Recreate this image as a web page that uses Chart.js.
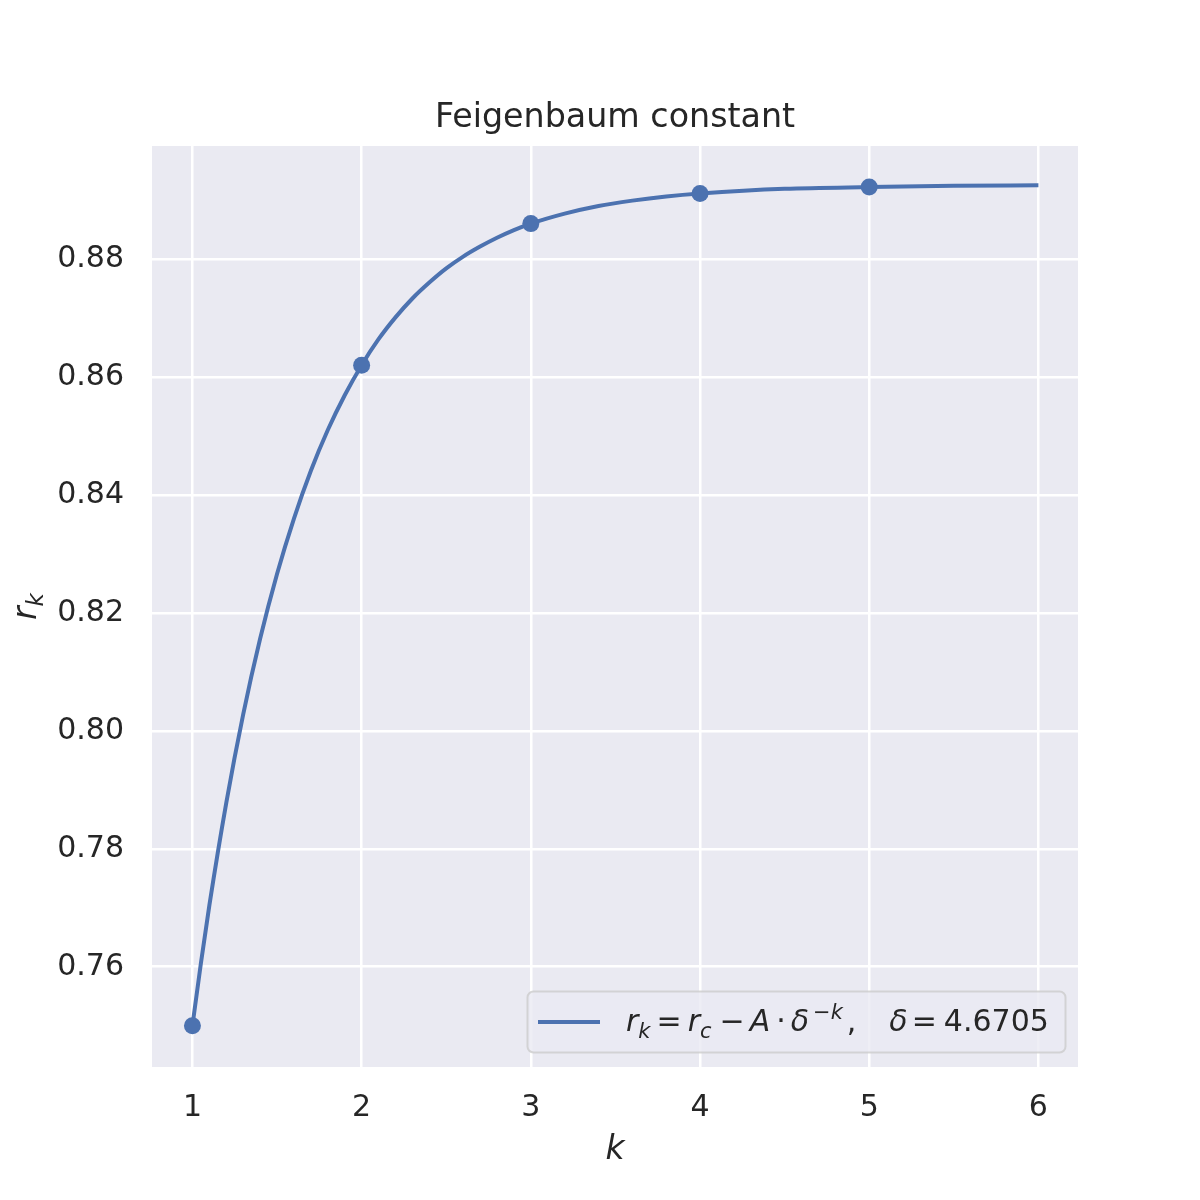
<!DOCTYPE html>
<html><head><meta charset="utf-8">
<script src="https://cdn.jsdelivr.net/npm/chart.js@4/dist/chart.umd.min.js"></script>
<style>html,body{margin:0;padding:0;background:#fff}#wrap{width:1200px;height:1200px}</style>
</head><body><div id="wrap"><canvas id="c" width="1200" height="1200"></canvas></div>
<script>
const chartTitle = "Feigenbaum constant";
const xLabel = "k";
const pointK = [1, 2, 3, 4, 5];
const pointR = [0.7500, 0.8620, 0.8860, 0.8911, 0.8922];
const curveK = [1.0, 1.05, 1.1, 1.2, 1.3, 1.4, 1.5, 1.6, 1.7, 1.8, 1.9, 2.0, 2.1, 2.2, 2.3, 2.4, 2.5, 2.6, 2.7, 2.8, 2.9, 3.0, 3.2, 3.4, 3.6, 3.8, 4.0, 4.5, 5.0, 5.5, 6.0];
const curveR = [0.7500, 0.7606, 0.7704, 0.7878, 0.8028, 0.8156, 0.8266, 0.8360, 0.8441, 0.8510, 0.8569, 0.8620, 0.8664, 0.8701, 0.8733, 0.8760, 0.8784, 0.8804, 0.8821, 0.8836, 0.8849, 0.8860, 0.8877, 0.8890, 0.8899, 0.8906, 0.8911, 0.8919, 0.8922, 0.8924, 0.8925];
const xTicks = [1, 2, 3, 4, 5, 6];
const yTicks = [0.76, 0.78, 0.80, 0.82, 0.84, 0.86, 0.88];
const deltaValue = "4.6705";

const BLUE = '#4C72B0';
const TXT = '#262626';
const FONT = '"DejaVu Sans", sans-serif';

const curveData = curveK.map((k, i) => ({x: k, y: curveR[i]}));
const pointData = pointK.map((k, i) => ({x: k, y: pointR[i]}));

function drawSeq(ctx, pieces, x, y, size) {
  for (const p of pieces) {
    const s = size * (p.scale || 1);
    ctx.font = (p.italic ? 'italic ' : '') + s + 'px ' + FONT;
    ctx.fillText(p.t, x, y + (p.dy || 0));
    x += ctx.measureText(p.t).width + (p.gap || 0);
  }
  return x;
}

const decor = {
  id: 'decor',
  beforeDraw(chart) {
    const {ctx, chartArea: a} = chart;
    ctx.save();
    ctx.fillStyle = '#EAEAF2';
    ctx.fillRect(a.left, a.top, a.right - a.left, a.bottom - a.top);
    ctx.restore();
  },
  afterDraw(chart) {
    const {ctx, chartArea: a} = chart;
    const cx = (a.left + a.right) / 2;
    ctx.save();
    ctx.fillStyle = TXT;
    ctx.textBaseline = 'alphabetic';
    // title
    ctx.font = '33.3px ' + FONT;
    ctx.textAlign = 'center';
    ctx.fillText(chartTitle, cx, 127);
    // x label
    ctx.font = 'italic 33px ' + FONT;
    ctx.fillText(xLabel, cx, 1159);
    // y label r_k
    ctx.save();
    ctx.translate(36, 606);
    ctx.rotate(-Math.PI / 2);
    ctx.textAlign = 'left';
    drawSeq(ctx, [{t: 'r', italic: true}, {t: 'k', italic: true, scale: 0.7, dy: 7}], -14, 0, 33);
    ctx.restore();
    // legend
    const lx = 527.5, ly = 991.5, lw = 538, lh = 61;
    ctx.beginPath();
    ctx.roundRect(lx, ly, lw, lh, 6);
    ctx.fillStyle = 'rgba(234,234,242,0.8)';
    ctx.fill();
    ctx.strokeStyle = 'rgba(204,204,204,0.8)';
    ctx.lineWidth = 2;
    ctx.stroke();
    ctx.beginPath();
    ctx.moveTo(538, 1022);
    ctx.lineTo(600, 1022);
    ctx.strokeStyle = BLUE;
    ctx.lineWidth = 4;
    ctx.stroke();
    ctx.fillStyle = TXT;
    ctx.textAlign = 'left';
    drawSeq(ctx, [
      {t: 'r', italic: true},
      {t: 'k', italic: true, scale: 0.7, dy: 7, gap: 6},
      {t: '=', gap: 6},
      {t: 'r', italic: true},
      {t: 'c', italic: true, scale: 0.7, dy: 7, gap: 8},
      {t: '\u2212', gap: 5},
      {t: 'A', italic: true, gap: 6},
      {t: '\u00b7', gap: 5},
      {t: '\u03b4', italic: true, gap: 4},
      {t: '\u2212k', italic: true, scale: 0.7, dy: -12, gap: 4},
      {t: ',', gap: 33},
      {t: '\u03b4', italic: true, gap: 4},
      {t: '=', gap: 7},
      {t: deltaValue}
    ], 626, 1031, 30);
    ctx.restore();
  }
};

new Chart(document.getElementById('c'), {
  type: 'scatter',
  data: {
    datasets: [
      {
        label: 'curve',
        data: curveData,
        showLine: true,
        borderColor: BLUE,
        borderWidth: 4,
        pointRadius: 0,
        cubicInterpolationMode: 'monotone',
        fill: false,
        order: 2
      },
      {
        label: 'points',
        data: pointData,
        showLine: false,
        backgroundColor: BLUE,
        borderColor: BLUE,
        pointRadius: 8.5,
        pointBorderWidth: 0,
        order: 1
      }
    ]
  },
  options: {
    responsive: false,
    animation: false,
    devicePixelRatio: 1,
    layout: {padding: {left: 0, right: 122, top: 146, bottom: 0}},
    plugins: {
      legend: {display: false},
      tooltip: {enabled: false},
      title: {display: false}
    },
    scales: {
      x: {
        type: 'linear',
        min: 0.761, max: 6.234,
        afterFit(s) { s.height = 133; },
        afterBuildTicks(s) { s.ticks = xTicks.map(v => ({value: v})); },
        ticks: {
          stepSize: 1, includeBounds: false, autoSkip: false, maxRotation: 0,
          color: TXT, font: {family: FONT, size: 30}, padding: 23,
          callback: v => String(v)
        },
        grid: {color: '#ffffff', lineWidth: 2.5, drawTicks: false},
        border: {display: false}
      },
      y: {
        type: 'linear',
        min: 0.743, max: 0.89916,
        afterFit(s) { s.width = 152; },
        afterBuildTicks(s) { s.ticks = yTicks.map(v => ({value: v})); },
        ticks: {
          stepSize: 0.02, includeBounds: false, autoSkip: false,
          color: TXT, font: {family: FONT, size: 30}, padding: 28,
          callback: v => Number(v).toFixed(2)
        },
        grid: {color: '#ffffff', lineWidth: 2.5, drawTicks: false},
        border: {display: false}
      }
    }
  },
  plugins: [decor]
});
</script>
</body></html>
